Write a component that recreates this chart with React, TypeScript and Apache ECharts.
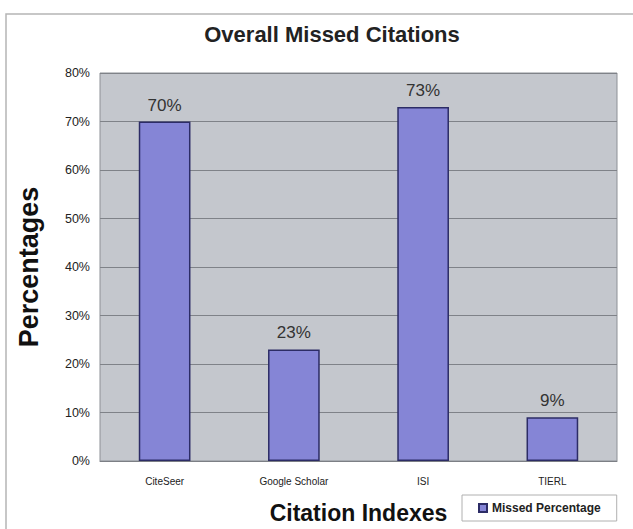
import React, { useEffect, useRef } from "react";
import * as echarts from "echarts";

const categories = ["CiteSeer", "Google Scholar", "ISI", "TIERL"];
const missedPercentage = [70, 23, 73, 9];
const seriesName = "Missed Percentage";
const titleText = "Overall Missed Citations";
const xTitle = "Citation Indexes";
const yTitle = "Percentages";

const FONT = "'Liberation Sans', Arial, sans-serif";

export default function App() {
  const ref = useRef<HTMLDivElement>(null);
  useEffect(() => {
    if (!ref.current) return;
    const chart = echarts.init(ref.current, null, { renderer: "svg" });
    chart.setOption({
      animation: false,
      backgroundColor: "#ffffff",
      title: {
        text: titleText,
        left: 327,
        top: 18,
        textAlign: "center",
        textStyle: { fontFamily: FONT, fontSize: 22, fontWeight: "bold", color: "#222" },
      },
      grid: {
        left: 100,
        right: 16,
        top: 73,
        bottom: 66,
        show: true,
        backgroundColor: "#c4c7cd",
        borderColor: "#8d9096",
        borderWidth: 1,
      },
      legend: {
        data: [seriesName],
        left: 462,
        top: 495,
        padding: [7, 16],
        itemWidth: 8,
        itemHeight: 8,
        itemGap: 4,
        icon: "rect",
        backgroundColor: "#ffffff",
        borderColor: "#b0b0b0",
        borderWidth: 1,
        textStyle: { fontFamily: FONT, fontSize: 12, fontWeight: "bold", color: "#222" },
      },
      xAxis: {
        type: "category",
        data: categories,
        name: xTitle,
        nameLocation: "middle",
        nameGap: 40,
        nameTextStyle: { fontFamily: FONT, fontSize: 23, fontWeight: "bold", color: "#111" },
        axisLine: { show: true, lineStyle: { color: "#7c7f85", width: 1 } },
        axisTick: { show: false },
        axisLabel: { fontFamily: FONT, fontSize: 10, color: "#222", margin: 15 },
      },
      yAxis: {
        type: "value",
        min: 0,
        max: 80,
        interval: 10,
        name: yTitle,
        nameLocation: "middle",
        nameGap: 58,
        nameTextStyle: { fontFamily: FONT, fontSize: 27, fontWeight: "bold", color: "#111" },
        axisLine: { show: false },
        axisTick: { show: false },
        axisLabel: { fontFamily: FONT, fontSize: 12.5, color: "#222", margin: 10, formatter: "{value}%" },
        splitLine: { show: true, lineStyle: { color: "#7f8288", width: 1 } },
      },
      series: [
        {
          name: seriesName,
          type: "bar",
          data: missedPercentage,
          barCategoryGap: "60%",
          itemStyle: { color: "#8585d6", borderColor: "#2c2c66", borderWidth: 1.5 },
          label: {
            show: true,
            position: "top",
            distance: 8,
            formatter: "{c}%",
            fontFamily: FONT,
            fontSize: 17,
            color: "#333",
          },
        },
      ],
      graphic: [
        {
          type: "rect",
          shape: { x: 6, y: 14, width: 640, height: 540 },
          style: { fill: "none", stroke: "#b5b5b5", lineWidth: 1.5 },
          silent: true,
          z: -1,
        },
      ],
    });
    return () => chart.dispose();
  }, []);
  return (
    <div
      ref={ref}
      style={{ position: "absolute", left: 0, top: 0, width: 633, height: 529 }}
    />
  );
}
